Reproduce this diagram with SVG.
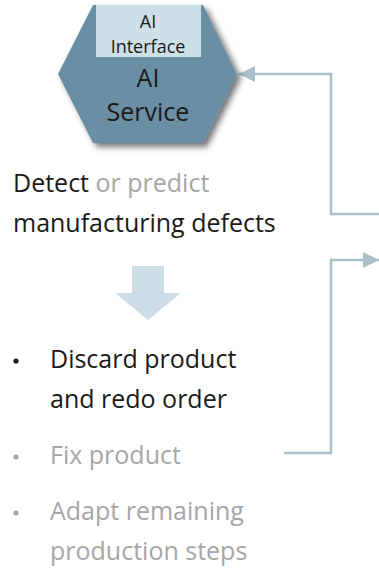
<svg xmlns="http://www.w3.org/2000/svg" width="379" height="568" viewBox="0 0 379 568">
<defs>
<style>
text{font-family:"Open Sans","Noto Sans","Liberation Sans",sans-serif;}
.dark{fill:#1a1a1a;}
.gray{fill:#a6a6a6;}
.conn{fill:none;stroke:#a8bfcc;stroke-width:2.5;}
.big{font-size:25px;}
</style>
<marker id="ah" markerWidth="16" markerHeight="16" viewBox="0 0 16 16" refX="16" refY="8" orient="auto" markerUnits="userSpaceOnUse">
<path d="M0,0 L16,8 L0,16 Z" fill="#a8bfcc"/>
</marker>
<filter id="sh" x="-20%" y="-20%" width="150%" height="150%">
<feGaussianBlur in="SourceAlpha" stdDeviation="3"/>
<feOffset dx="4" dy="4" result="b"/>
<feComponentTransfer><feFuncA type="linear" slope="0.55"/></feComponentTransfer>
<feMerge><feMergeNode/><feMergeNode in="SourceGraphic"/></feMerge>
</filter>
</defs>
<g id="connectors">
<path class="conn" d="M379,214 H331 V74 H239" marker-end="url(#ah)"/>
<path class="conn" d="M284,453 H331 V260 H379" marker-end="url(#ah)"/>
<path d="M132,266 H164 V293 H181 L148,320 L115,293 H132 Z" fill="#cddde5"/>
</g>
<g id="ai-service">
<polygon points="93,5 203,5 237,74 203,143 93,143 58,74" fill="#6b8ea3" filter="url(#sh)"/>
<rect x="96" y="5" width="105" height="52" fill="#cde0e8"/>
<text x="148" y="28" text-anchor="middle" font-size="18" class="dark">AI</text>
<text x="148" y="53" text-anchor="middle" font-size="18" class="dark">Interface</text>
<text x="148" y="87" text-anchor="middle" class="big dark">AI</text>
<text x="148" y="121" text-anchor="middle" class="big dark">Service</text>
</g>
<g id="detect">
<text x="13" y="192" class="big"><tspan class="dark">Detect</tspan><tspan class="gray"> or predict</tspan></text>
<text x="13" y="232" class="big dark">manufacturing defects</text>
</g>
<g id="actions">
<circle cx="16" cy="361" r="2.6" fill="#1a1a1a"/>
<text x="50" y="368" class="big dark">Discard product</text>
<text x="50" y="408" class="big dark">and redo order</text>
<circle cx="16" cy="457" r="2.6" fill="#a6a6a6"/>
<text x="50" y="464" class="big gray">Fix product</text>
<circle cx="16" cy="513" r="2.6" fill="#a6a6a6"/>
<text x="50" y="520" class="big gray">Adapt remaining</text>
<text x="50" y="560" class="big gray">production steps</text>
</g>
</svg>
